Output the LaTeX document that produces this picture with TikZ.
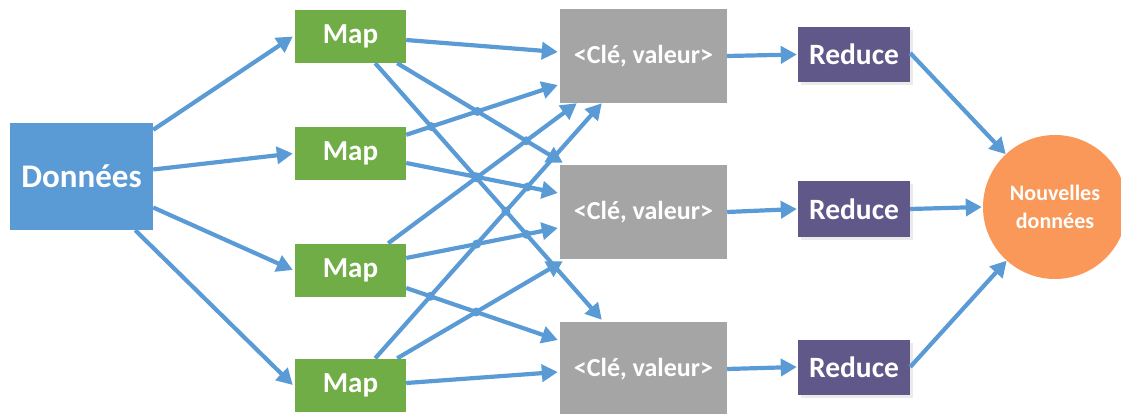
\documentclass[tikz,border=0pt]{standalone}
\usepackage{fontspec}
\setmainfont{Carlito}
\usetikzlibrary{arrows.meta,shadows}

\definecolor{wireblue}{HTML}{5B9BD5}
\definecolor{mapgreen}{HTML}{70AD47}
\definecolor{pairgray}{HTML}{A5A5A5}
\definecolor{redpurple}{HTML}{5F5889}
\definecolor{outorange}{HTML}{F99858}

\tikzset{
  box/.style={rectangle, inner sep=0pt, text=white, font=\bfseries},
  srcbox/.style={box, fill=wireblue, minimum width=143pt, minimum height=107pt, font=\bfseries\fontsize{33}{36}\selectfont},
  mapbox/.style={box, fill=mapgreen, minimum width=111pt, minimum height=53pt, font=\bfseries\fontsize{29}{32}\selectfont},
  pairbox/.style={box, fill=pairgray, minimum width=167pt, minimum height=94pt, font=\bfseries\fontsize{26}{30}\selectfont},
  redbox/.style={box, fill=redpurple, minimum width=112pt, minimum height=55pt,
    drop shadow={shadow xshift=3pt, shadow yshift=-3pt, fill=black!8, opacity=1},
    font=\bfseries\fontsize{29.5}{32}\selectfont},
  outcircle/.style={circle, fill=outorange, minimum size=144pt, inner sep=0pt, text=white,
    align=center, font=\bfseries\fontsize{22}{28}\selectfont},
  wire/.style={draw=wireblue, line width=4.2pt, -{Triangle[length=16pt,width=17pt]}},
  junction/.style={fill=wireblue}
}

\begin{document}
\begin{tikzpicture}[x=1pt, y=-1pt]
\useasboundingbox (0,0) rectangle (1121,414);

% boxes
\node[srcbox] (D) at (81.5,176.5) {Données};

\node[mapbox] (M1) at (350.5,36.5) {Map};
\node[mapbox] (M2) at (350.5,153.5) {Map};
\node[mapbox] (M3) at (350.5,270) {Map};
\node[mapbox] (M4) at (350.5,385) {Map};

\node[pairbox] (K1) at (643.5,56) {<Clé, valeur>};
\node[pairbox] (K2) at (643.5,212) {<Clé, valeur>};
\node[pairbox] (K3) at (643.5,369) {<Clé, valeur>};

\node[redbox] (R1) at (854,54.5) {Reduce};
\node[redbox] (R2) at (854,209) {Reduce};
\node[redbox] (R3) at (854,367) {Reduce};

\node[outcircle] (C) at (1055,207) {Nouvelles\\données};

% input split
\draw[wire] ([yshift=-7pt]D.north east) -- ([xshift=-2pt]M1.west);
\draw[wire] ([yshift=7pt]D.east) -- ([xshift=-2pt]M2.west);
\draw[wire] ([yshift=-31pt]D.east) -- ([xshift=-2pt]M3.west);
\draw[wire] ([xshift=-18pt]D.south east) -- ([xshift=-2pt]M4.west);

% shuffle: attachment points on the map and key/value boxes
\coordinate (s1)  at ([yshift=-3.5pt]M1.east);
\coordinate (e1)  at ([xshift=-2pt,yshift=4pt]K1.west);
\coordinate (s2)  at ([xshift=-9pt]M1.south east);
\coordinate (e2)  at ([xshift=3pt,yshift=2pt]K2.north west);
\coordinate (s3)  at ([xshift=-31pt]M1.south east);
\coordinate (e3)  at ([xshift=42pt,yshift=2pt]K3.north west);
\coordinate (s4)  at ([yshift=-8pt]M2.north east);
\coordinate (e4)  at ([xshift=-2pt,yshift=-29pt]K1.west);
\coordinate (s5)  at ([yshift=-9.5pt]M2.east);
\coordinate (e5)  at ([xshift=-2pt,yshift=19pt]K2.west);
\coordinate (s6)  at ([xshift=-18pt]M3.north east);
\coordinate (e6)  at ([xshift=17pt]K1.south west);
\coordinate (s7)  at ([yshift=12pt]M3.east);
\coordinate (e7)  at ([xshift=-2pt,yshift=-16pt]K2.west);
\coordinate (s8)  at ([yshift=-18pt]M3.east);
\coordinate (e8)  at ([xshift=-2pt,yshift=29pt]K3.west);
\coordinate (s9)  at ([xshift=-31pt]M4.north east);
\coordinate (e9)  at ([xshift=42pt]K1.south west);
\coordinate (s10) at ([xshift=-9pt]M4.north east);
\coordinate (e10) at ([xshift=3pt,yshift=-2pt]K2.south west);
\coordinate (s11) at ([yshift=2pt]M4.east);
\coordinate (e11) at ([xshift=-2pt,yshift=-3pt]K3.west);

\foreach \k in {1,...,11} \draw[wire] (s\k) -- (e\k);

% junction dots where shuffle lines cross
\foreach \a/\b in {4/3,4/2,2/6,2/9,3/5,3/6,3/9,3/7,3/10,5/6,5/9,7/9,8/9,8/10}
  \fill[junction] (intersection cs: first line={(s\a)--(e\a)}, second line={(s\b)--(e\b)}) circle (4.5pt);

% reduce stage
\draw[wire] (K1.east) -- ([xshift=-1pt]R1.west);
\draw[wire] (K2.east) -- ([xshift=-1pt]R2.west);
\draw[wire] (K3.east) -- ([xshift=-1pt]R3.west);

\draw[wire] ([yshift=1.5pt]R1.east) -- (C.133);
\draw[wire] (R2.east) -- ([xshift=-1pt]C.west);
\draw[wire] (R3.east) -- (C.228);
\end{tikzpicture}
\end{document}
